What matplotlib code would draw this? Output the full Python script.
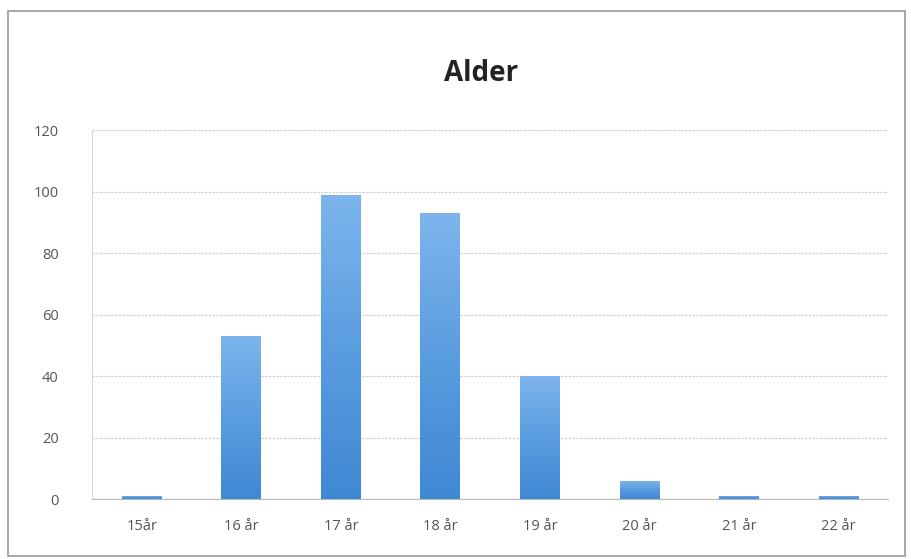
import numpy as np
import matplotlib
matplotlib.use('Agg')
import matplotlib.pyplot as plt
from matplotlib.colors import LinearSegmentedColormap
from matplotlib.patches import Rectangle

# data
ages = ['15år', '16 år', '17 år', '18 år', '19 år', '20 år', '21 år', '22 år']
counts = [1, 53, 99, 93, 40, 6, 1, 1]
yticks = [0, 20, 40, 60, 80, 100, 120]

plt.rcParams['font.family'] = ['Open Sans', 'DejaVu Sans']

fig = plt.figure(figsize=(9.11, 5.59), dpi=100)
ax = fig.add_axes([0.101, 0.107, 0.874, 0.66])

# outer chart border
fig.patches.append(Rectangle((8 / 911, 3 / 559), 897 / 911, 545 / 559, transform=fig.transFigure,
                             fill=False, edgecolor='#9a9a9a', linewidth=1.2))

x = np.arange(len(ages))
bars = ax.bar(x, counts, width=0.4, color='none', edgecolor='none', zorder=3)

# gradient fill: a bit lighter at top, darker at bottom
cmap = LinearSegmentedColormap.from_list('blu', ['#3f88d3', '#5a9de0', '#7db5ec'])
grad = np.linspace(0, 1, 256).reshape(-1, 1)
for b in bars:
    bx, by = b.get_x(), b.get_y()
    bw, bh = b.get_width(), b.get_height()
    im = ax.imshow(grad, cmap=cmap, origin='lower', aspect='auto',
                   extent=[bx, bx + bw, by, by + bh], zorder=3)
    im.set_clip_path(b)

ax.set_xlim(-0.5, len(ages) - 0.5)
ax.set_ylim(0, 120)
ax.set_yticks(yticks)
ax.set_xticks(x)
ax.set_xticklabels(ages)
ax.grid(axis='y', color='#d0d0d0', linewidth=0.9, linestyle=(0, (2, 1)), zorder=0)
ax.tick_params(length=0, labelsize=10.5, colors='#555555', pad=14)
ax.tick_params(axis='y', pad=24)
for s in ['top', 'right']:
    ax.spines[s].set_visible(False)
ax.spines['left'].set_color('#d8d8d8')
ax.spines['bottom'].set_color('#b8b8b8')

fig.text(0.528, 0.868, 'Alder', ha='center', va='center', fontsize=20, fontweight='bold', color='#222222')

fig.savefig('out.png', dpi=100)
